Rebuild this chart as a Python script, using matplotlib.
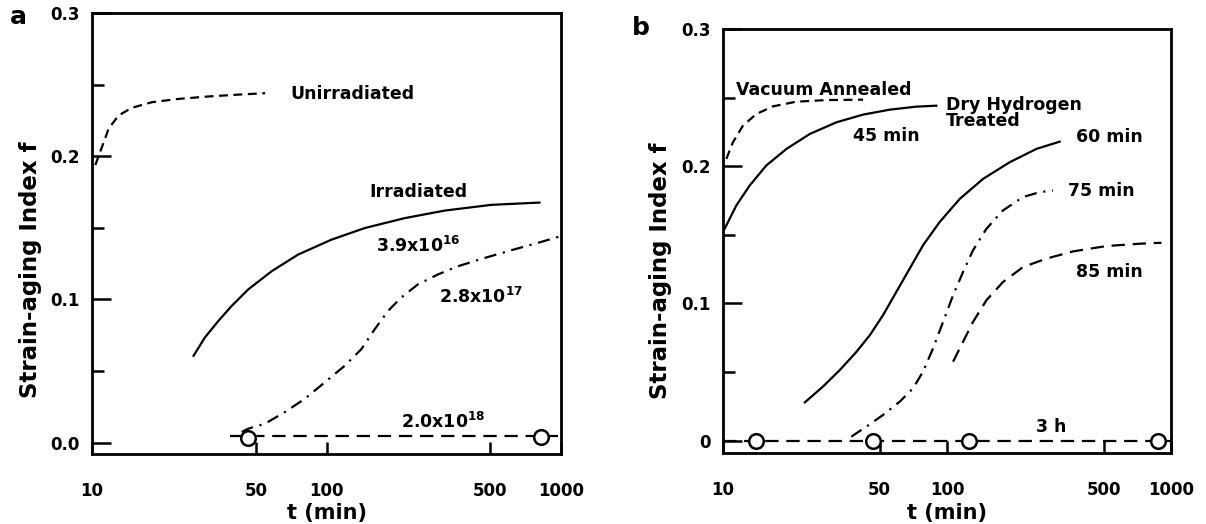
import matplotlib
matplotlib.use("Agg")
import matplotlib.pyplot as plt
from matplotlib.ticker import NullLocator

# tipografia general: todo en negrita, tambien los exponentes
plt.rcParams['font.family'] = 'DejaVu Sans'
plt.rcParams['font.weight'] = 'bold'
plt.rcParams['axes.labelweight'] = 'bold'
plt.rcParams['mathtext.fontset'] = 'custom'
plt.rcParams['mathtext.rm'] = 'DejaVu Sans:bold'
plt.rcParams['mathtext.default'] = 'rm'

# ejes comunes
x_ticks = [10, 50, 100, 500, 1000]
x_tick_labels = ['10', '50', '100', '500', '1000']
y_ticks = [0.0, 0.1, 0.2, 0.3]
y_minor = [0.05, 0.15, 0.25]
y_labels_a = ['0.0', '0.1', '0.2', '0.3']
y_labels_b = ['0', '0.1', '0.2', '0.3']

# panel a: sin irradiar / irradiado
unirr_t = [10.33, 11.03, 11.77, 12.99, 14.8, 18.0, 23.4, 31.4, 42.1, 54.7]
unirr_f = [0.1938, 0.2065, 0.2192, 0.2285, 0.2338, 0.2377, 0.240, 0.2417,
           0.243, 0.244]

irr16_t = [27.1, 30.3, 34.6, 39.4, 46.4, 58.4, 75.7, 105, 145.6, 215, 319,
           504, 809]
irr16_f = [0.0606, 0.0734, 0.085, 0.0954, 0.107, 0.1197, 0.1313, 0.1417,
           0.1498, 0.1567, 0.162, 0.166, 0.1676]

irr17_t = [43.5, 46.4, 54.7, 66.5, 80.9, 98.4, 119.7, 140.9, 160.6, 182.9,
           208, 245, 298.6, 363, 472, 613, 795, 968, 1000]
irr17_f = [0.0074, 0.0097, 0.0132, 0.0213, 0.0306, 0.0421, 0.0537, 0.0653,
           0.0792, 0.0919, 0.1012, 0.1104, 0.1174, 0.1231, 0.1289, 0.1343,
           0.1394, 0.1435, 0.1445]

irr18_t = [38.8, 968]
irr18_f = [0.0046, 0.0046]
irr18_pts_t = [46.4, 822]
irr18_pts_f = [0.0035, 0.0039]

# panel b: recocido en vacio / tratado en hidrogeno seco
vac_t = [10.35, 11.08, 12.28, 14.08, 16.7, 21.2, 28.9, 42.2]
vac_f = [0.2053, 0.2175, 0.2296, 0.238, 0.2436, 0.247, 0.2482, 0.2485]

h45_t = [10.17, 11.47, 13.15, 15.6, 19.2, 24.4, 32.1, 42.2, 55.5, 72.9, 89.6]
h45_f = [0.1544, 0.1714, 0.1859, 0.2005, 0.2126, 0.2235, 0.232, 0.2376,
         0.2412, 0.2434, 0.2441]

h60_t = [23.2, 27.9, 33.2, 39.4, 45.2, 51.8, 59.4, 68.1, 78.1, 92.7, 114,
         145, 190.5, 250.6, 318.5]
h60_f = [0.0279, 0.0393, 0.0514, 0.0647, 0.0768, 0.0914, 0.1084, 0.1253,
         0.1423, 0.1593, 0.1762, 0.1908, 0.2029, 0.2126, 0.2179]

h75_t = [37.4, 43.6, 51.8, 61.5, 70.5, 78.1, 86.6, 96, 106.4, 117.9, 130.6,
         149.9, 177.8, 218.4, 259, 297]
h75_f = [0.0029, 0.0102, 0.0187, 0.0284, 0.0381, 0.0502, 0.0672, 0.0865,
         0.1059, 0.1229, 0.1387, 0.1544, 0.1678, 0.1775, 0.1811, 0.1823]

h85_t = [106.4, 117.9, 130.6, 149.9, 177.8, 218.4, 277, 365, 514, 724, 906]
h85_f = [0.0575, 0.072, 0.0865, 0.1023, 0.1156, 0.1265, 0.1326, 0.1379,
         0.1418, 0.1435, 0.1442]

h3_t = [10, 1000]
h3_f = [0.0, 0.0]
h3_pts_t = [14.1, 46.8, 125, 875]
h3_pts_f = [0.0, 0.0, 0.0, 0.0]

LW = 1.6
DASH = (4, 2.5)
LONG_DASH = (6, 3.5)
DASH_DOT = (5.5, 3, 1, 3)


def format_axes(ax, ylabels, ybottom):
    ax.set_xscale('log')
    ax.set_xlim(10, 1000)
    ax.set_ylim(ybottom, 0.3)
    ax.set_xticks(x_ticks, labels=x_tick_labels)
    ax.xaxis.set_minor_locator(NullLocator())
    ax.set_yticks(y_ticks, labels=ylabels)
    ax.set_yticks(y_minor, minor=True)
    ax.tick_params(axis='both', which='both', direction='in',
                   top=False, right=False, width=1.8, labelsize=12)
    ax.tick_params(axis='x', which='major', length=9, pad=20)
    ax.tick_params(axis='y', which='major', length=14, pad=9)
    ax.tick_params(axis='y', which='minor', length=8.5)
    for s in ax.spines.values():
        s.set_linewidth(2.0)
    ax.set_xlabel('t (min)', fontsize=15)
    ax.set_ylabel('Strain-aging Index f', fontsize=16.5)


def circles(ax, t, f):
    ax.plot(t, f, linestyle='none', marker='o', markersize=10.5,
            markerfacecolor='white', markeredgecolor='black',
            markeredgewidth=1.8, zorder=4)


fig = plt.figure(figsize=(12.06, 5.24), dpi=100)
ax_a = fig.add_axes([0.0763, 0.1336, 0.3889, 0.8416])
ax_b = fig.add_axes([0.5995, 0.1355, 0.3715, 0.8092])

# ---- panel a
ax_a.plot(unirr_t, unirr_f, color='black', lw=LW, dashes=DASH)
ax_a.plot(irr16_t, irr16_f, color='black', lw=LW)
ax_a.plot(irr17_t, irr17_f, color='black', lw=LW, dashes=DASH_DOT)
ax_a.plot(irr18_t, irr18_f, color='black', lw=LW, dashes=LONG_DASH)
circles(ax_a, irr18_pts_t, irr18_pts_f)

txt = dict(fontsize=12.5, ha='left', va='center')
ax_a.text(69.8, 0.2435, 'Unirradiated', **txt)
ax_a.text(152.8, 0.175, 'Irradiated', **txt)
ax_a.text(163.3, 0.137, '3.9x10$^{16}$', **txt)
ax_a.text(303, 0.102, '2.8x10$^{17}$', **txt)
ax_a.text(208, 0.0144, '2.0x10$^{18}$', **txt)

format_axes(ax_a, y_labels_a, -0.008)
ax_a.xaxis.set_label_coords(0.5, -0.111)
ax_a.yaxis.set_label_coords(-0.107, 0.417)

# ---- panel b
ax_b.plot(vac_t, vac_f, color='black', lw=LW, dashes=DASH)
ax_b.plot(h45_t, h45_f, color='black', lw=LW)
ax_b.plot(h60_t, h60_f, color='black', lw=LW)
ax_b.plot(h75_t, h75_f, color='black', lw=LW, dashes=DASH_DOT)
ax_b.plot(h85_t, h85_f, color='black', lw=LW, dashes=LONG_DASH)
ax_b.plot(h3_t, h3_f, color='black', lw=LW, dashes=LONG_DASH)
circles(ax_b, h3_pts_t, h3_pts_f)

ax_b.text(11.47, 0.2555, 'Vacuum Annealed', **txt)
ax_b.text(98.6, 0.2389, 'Dry Hydrogen\nTreated', linespacing=0.9, **txt)
ax_b.text(38.0, 0.2218, '45 min', **txt)
ax_b.text(378, 0.2211, '60 min', **txt)
ax_b.text(346.6, 0.1818, '75 min', **txt)
ax_b.text(378, 0.1229, '85 min', **txt)
ax_b.text(250.6, 0.0102, '3 h', **txt)

format_axes(ax_b, y_labels_b, -0.009)
ax_b.xaxis.set_label_coords(0.5, -0.118)
ax_b.yaxis.set_label_coords(-0.114, 0.43)

# letras de los paneles
fig.text(0.008, 0.968, 'a', fontsize=18, va='center', ha='left')
fig.text(0.524, 0.947, 'b', fontsize=18, va='center', ha='left')

fig.savefig('out.png', dpi=100)
